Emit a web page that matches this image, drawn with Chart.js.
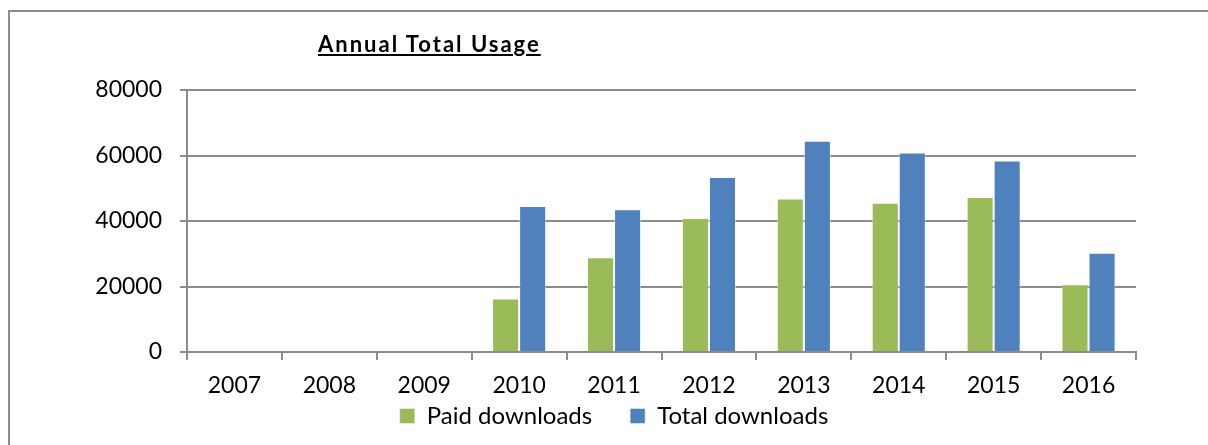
<!DOCTYPE html>
<html>
<head>
<meta charset="utf-8">
<script src="https://cdn.jsdelivr.net/npm/chart.js@4/dist/chart.umd.min.js"></script>
<style>
  html, body { margin: 0; padding: 0; background: #fff; }
  #wrap { position: relative; width: 1208px; height: 445px; overflow: hidden; }
  #frame { position: absolute; left: 8px; top: 10px; width: 1300px; height: 600px;
           border-left: 2px solid #8c8c8c; border-top: 2px solid #8c8c8c; }
  #title { position: absolute; left: 318px; top: 30px; font-family: Lato, sans-serif;
           font-weight: bold; font-size: 22px; letter-spacing: 2px;
           text-decoration: underline; color: #000; }
  canvas { position: absolute; left: 0; top: 0; }
</style>
</head>
<body>
<div id="wrap">
  <div id="frame"></div>
  <canvas id="usageChart" width="1208" height="445"></canvas>
  <div id="title">Annual Total Usage</div>
</div>
<script>
const years = ['2007', '2008', '2009', '2010', '2011', '2012', '2013', '2014', '2015', '2016'];
const paidDownloads = [null, null, null, 16300, 28900, 40900, 46900, 45600, 47300, 20700];
const totalDownloads = [null, null, null, 44600, 43600, 53400, 64500, 60900, 58500, 30300];
const yTicks = [0, 20000, 40000, 60000, 80000];

const gridColor = '#8c8c8c';
const tickFont = { family: 'Lato', size: 23 };
const legendFont = { family: 'Lato', size: 24 };

document.addEventListener('DOMContentLoaded', () => {
    const ctx = document.getElementById('usageChart');
    new Chart(ctx, {
        type: 'bar',
        data: {
            labels: years,
            datasets: [{
                label: 'Paid downloads',
                data: paidDownloads,
                backgroundColor: '#9BBB59',
                borderColor: 'rgba(255,255,255,0.45)',
                borderWidth: 1,
                barPercentage: 1,
                categoryPercentage: 0.57
            }, {
                label: 'Total downloads',
                data: totalDownloads,
                backgroundColor: '#4F81BD',
                borderColor: 'rgba(255,255,255,0.45)',
                borderWidth: 1,
                barPercentage: 1,
                categoryPercentage: 0.57
            }]
        },
        options: {
            responsive: false,
            animation: false,
            layout: { padding: { left: 92, right: 72, top: 90, bottom: 7 } },
            plugins: {
                tooltip: { enabled: false },
                legend: {
                    position: 'bottom',
                    labels: {
                        font: legendFont,
                        color: '#000',
                        boxWidth: 15,
                        boxHeight: 15,
                        padding: 2,
                        // wider gap between the two entries
                        generateLabels: (chart) => {
                            const items = Chart.defaults.plugins.legend.labels.generateLabels(chart);
                            items[0].text += '\u2003\u2003';
                            return items;
                        }
                    }
                }
            },
            scales: {
                x: {
                    // fixed height so the legend sits right under the year labels
                    afterFit: (scale) => { scale.height = 50; },
                    grid: { drawOnChartArea: false, drawTicks: true, tickLength: 8, color: gridColor, lineWidth: 2, offset: true },
                    border: { color: gridColor, width: 2 },
                    ticks: { font: tickFont, color: '#000', padding: 12, maxRotation: 0 }
                },
                y: {
                    min: 0,
                    max: 80000,
                    afterFit: (scale) => { scale.width = 95; },
                    afterBuildTicks: (scale) => { scale.ticks = yTicks.map(v => ({ value: v })); },
                    grid: { color: gridColor, lineWidth: 2, tickLength: 7 },
                    border: { color: gridColor, width: 2 },
                    ticks: { font: tickFont, color: '#000', padding: 18, callback: (v) => String(v) }
                }
            }
        }
    });
});
</script>
</body>
</html>
